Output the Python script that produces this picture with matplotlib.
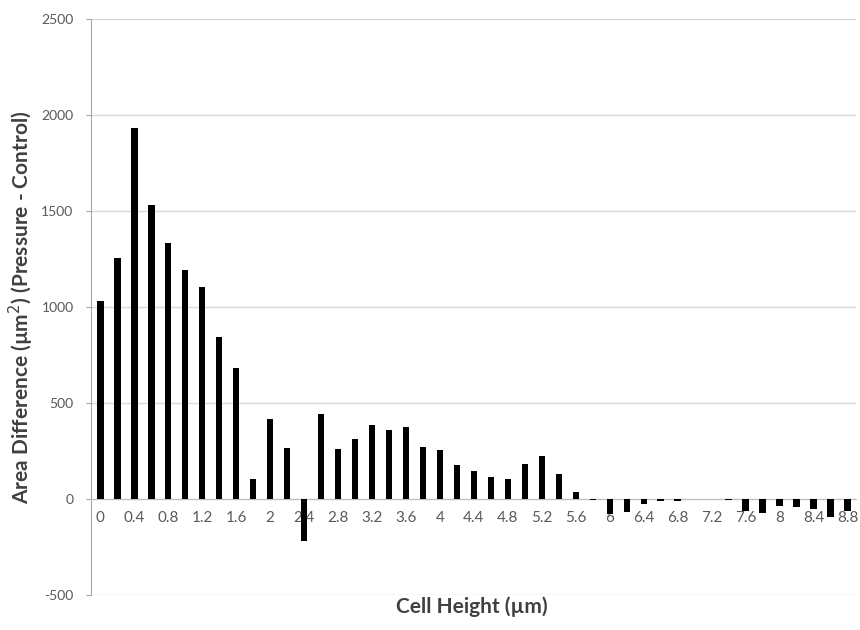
import numpy as np
import matplotlib
matplotlib.use("Agg")
import matplotlib.pyplot as plt

heights = [0, 0.2, 0.4, 0.6, 0.8, 1, 1.2, 1.4, 1.6, 1.8, 2, 2.2, 2.4, 2.6, 2.8,
           3, 3.2, 3.4, 3.6, 3.8, 4, 4.2, 4.4, 4.6, 4.8, 5, 5.2, 5.4, 5.6, 5.8,
           6, 6.2, 6.4, 6.6, 6.8, 7, 7.2, 7.4, 7.6, 7.8, 8, 8.2, 8.4, 8.6, 8.8]
area_diff = [1030, 1253, 1932, 1530, 1332, 1193, 1106, 845, 681, 103, 415, 264, -217, 441, 259,
             314, 385, 359, 377, 272, 255, 179, 147, 116, 104, 181, 224, 130, 35, -5,
             -78, -70, -28, -10, -8, 0, 0, -6, -61, -71, -36, -40, -52, -95, -61]
y_ticks = [-500, 0, 500, 1000, 1500, 2000, 2500]

plt.rcParams['font.family'] = ['Lato', 'DejaVu Sans']

fig = plt.figure(figsize=(8.6, 6.3), dpi=100)
ax = fig.add_axes([91/860, 1-595/630, (856-91)/860, (595-19)/630])

x = np.arange(len(heights))
ax.bar(x, area_diff, width=0.38, color='black', zorder=3)

ax.set_xlim(-0.55, len(heights) - 0.5)
ax.set_ylim(-500, 2500)
ax.set_yticks(y_ticks)
ax.set_yticklabels([str(v) for v in y_ticks])
ax.yaxis.grid(True, color='#d9d9d9', linewidth=1, zorder=0)

ax.set_xticks(x[::2])
ax.set_xticklabels([f"{h:g}" for h in heights[::2]])

for s in ['top', 'right']:
    ax.spines[s].set_visible(False)
ax.spines['bottom'].set_position(('data', 0))
ax.spines['bottom'].set_color('#bfbfbf')
ax.spines['left'].set_color('#a6a6a6')

ax.tick_params(axis='x', length=0, pad=9, labelsize=11, labelcolor='#595959')
ax.tick_params(axis='y', length=3.6, color='#a6a6a6', pad=9, labelsize=10, labelcolor='#595959')

fig.text(472/860, 1-607/630, 'Cell Height (µm)', ha='center', va='center',
         fontsize=15, fontweight='bold', color='#404040')
fig.text(21/860, 1-307/630, 'Area Difference (µm$^2$) (Pressure - Control)', ha='center', va='center',
         rotation=90, fontsize=15, fontweight='bold', color='#404040')

fig.savefig('out.png', dpi=100)
